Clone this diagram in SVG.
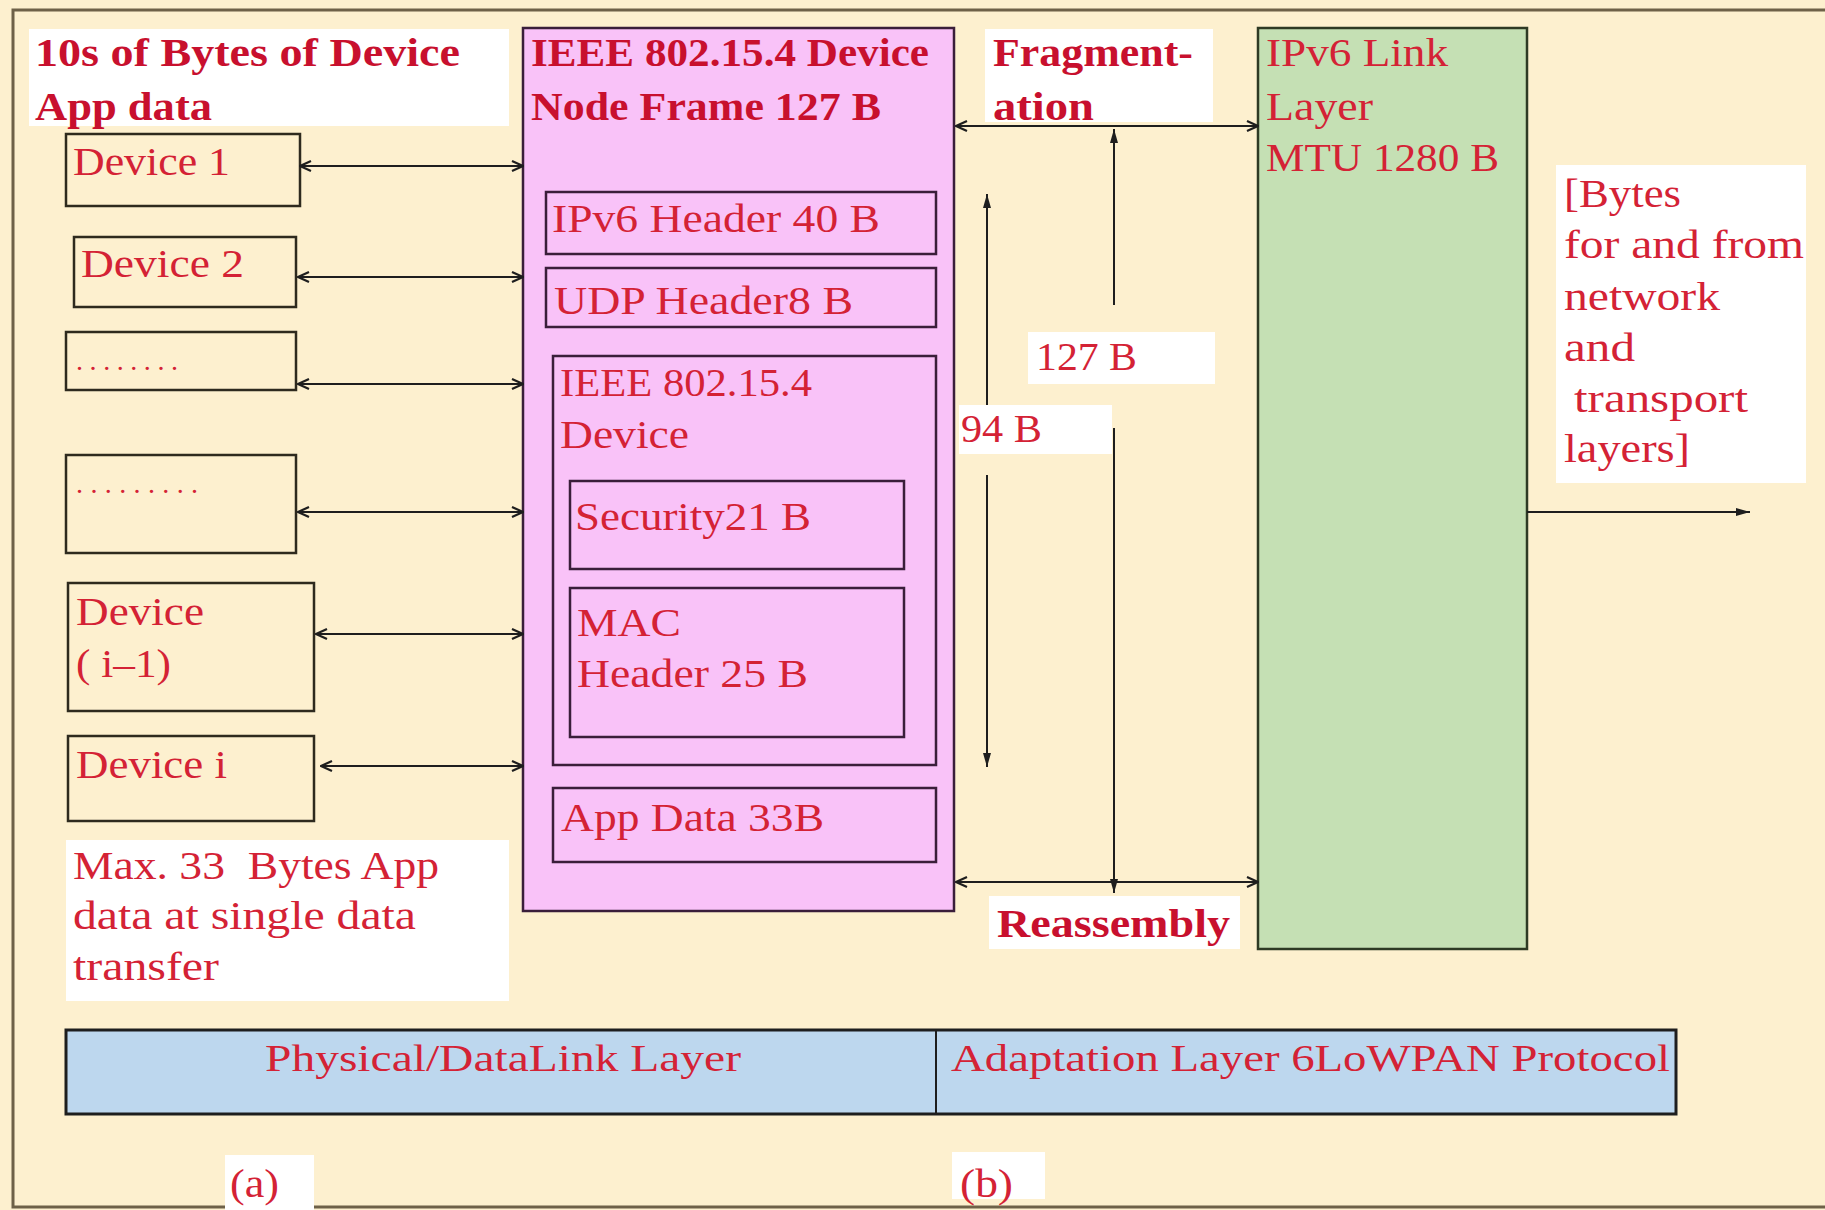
<svg xmlns="http://www.w3.org/2000/svg" width="1825" height="1210" viewBox="0 0 1825 1210" font-family="'Liberation Serif', 'Times New Roman', serif">
<defs>
<style>
text{font-family:'Liberation Serif','Times New Roman',serif;font-size:40px;fill:#d42235}
.b{font-weight:bold;fill:#c8102e}
.bar{font-size:38px}
.box{fill:none;stroke:#2e2a1e;stroke-width:2.5}
.pk{fill:#f9c2f8;stroke:#3a1e3a;stroke-width:2.5}
.wh{fill:#ffffff}
.c{stroke:#1e1e1e;stroke-width:2;fill:none}
</style>
<marker id="open" viewBox="0 0 14 14" refX="13" refY="7" markerWidth="14" markerHeight="14" orient="auto-start-reverse" markerUnits="userSpaceOnUse">
<path d="M2,2 L13,7 L2,12" fill="none" stroke="#1e1e1e" stroke-width="2.2"/>
</marker>
<marker id="tri" viewBox="0 0 14 8" refX="14" refY="4" markerWidth="14" markerHeight="8" orient="auto" markerUnits="userSpaceOnUse">
<path d="M0,0 L14,4 L0,8 Z" fill="#1e1e1e"/>
</marker>
</defs>
<rect x="0" y="0" width="1825" height="1210" fill="#fdf0cf"/>
<path d="M1825,10 H13 V1207 H1825" fill="none" stroke="#6e6148" stroke-width="3"/>

<g id="title-a">
<rect class="wh" x="29" y="29" width="480" height="97"/>
<text class="b" x="35" y="66" textLength="425" lengthAdjust="spacingAndGlyphs">10s of Bytes of Device</text>
<text class="b" x="35" y="120" textLength="177" lengthAdjust="spacingAndGlyphs">App data</text>
</g>

<g id="device1"><rect class="box" x="66" y="134" width="234" height="72"/>
<text x="73" y="175" textLength="157" lengthAdjust="spacingAndGlyphs">Device 1</text></g>
<g id="device2"><rect class="box" x="74" y="237" width="222" height="70"/>
<text x="81" y="277" textLength="163" lengthAdjust="spacingAndGlyphs">Device 2</text></g>
<g id="device-dots1"><rect class="box" x="66" y="332" width="230" height="58"/>
<text x="76" y="370" style="font-size:28px" textLength="102" lengthAdjust="spacing">........</text></g>
<g id="device-dots2"><rect class="box" x="66" y="455" width="230" height="98"/>
<text x="76" y="493" style="font-size:28px" textLength="122" lengthAdjust="spacing">.........</text></g>
<g id="device-im1"><rect class="box" x="68" y="583" width="246" height="128"/>
<text x="76" y="625" textLength="128" lengthAdjust="spacingAndGlyphs">Device</text>
<text x="76" y="677" textLength="95" lengthAdjust="spacingAndGlyphs">( i–1)</text></g>
<g id="device-i"><rect class="box" x="68" y="736" width="246" height="85"/>
<text x="76" y="778" textLength="151" lengthAdjust="spacingAndGlyphs">Device i</text></g>

<g id="max-note">
<rect class="wh" x="66" y="840" width="443" height="161"/>
<text x="73" y="879" textLength="366" lengthAdjust="spacingAndGlyphs">Max. 33&#160; Bytes App</text>
<text x="73" y="929" textLength="343" lengthAdjust="spacingAndGlyphs">data at single data</text>
<text x="73" y="980" textLength="146" lengthAdjust="spacingAndGlyphs">transfer</text>
</g>

<g id="frame-127">
<rect class="pk" x="523" y="28" width="431" height="883"/>
<text class="b" x="531" y="66" textLength="398" lengthAdjust="spacingAndGlyphs">IEEE 802.15.4 Device</text>
<text class="b" x="531" y="120" textLength="350" lengthAdjust="spacingAndGlyphs">Node Frame 127 B</text>
</g>
<g id="ipv6-header"><rect class="pk" x="546" y="192" width="390" height="62"/>
<text x="552" y="232" textLength="328" lengthAdjust="spacingAndGlyphs">IPv6 Header 40 B</text></g>
<g id="udp-header"><rect class="pk" x="546" y="268" width="390" height="59"/>
<text x="554" y="314" textLength="299" lengthAdjust="spacingAndGlyphs">UDP Header8 B</text></g>
<g id="ieee-device"><rect class="pk" x="553" y="356" width="383" height="409"/>
<text x="560" y="396" textLength="252" lengthAdjust="spacingAndGlyphs">IEEE 802.15.4</text>
<text x="560" y="448" textLength="129" lengthAdjust="spacingAndGlyphs">Device</text></g>
<g id="security"><rect class="pk" x="570" y="481" width="334" height="88"/>
<text x="575" y="530" textLength="236" lengthAdjust="spacingAndGlyphs">Security21 B</text></g>
<g id="mac-header"><rect class="pk" x="570" y="588" width="334" height="149"/>
<text x="577" y="636" textLength="104" lengthAdjust="spacingAndGlyphs">MAC</text>
<text x="577" y="687" textLength="231" lengthAdjust="spacingAndGlyphs">Header 25 B</text></g>
<g id="app-data"><rect class="pk" x="553" y="788" width="383" height="74"/>
<text x="561" y="831" textLength="263" lengthAdjust="spacingAndGlyphs">App Data 33B</text></g>

<g id="ipv6-link">
<rect x="1258" y="28" width="269" height="921" fill="#c5e0b4" stroke="#2e3a24" stroke-width="2.5"/>
<text x="1266" y="66" textLength="182" lengthAdjust="spacingAndGlyphs">IPv6 Link</text>
<text x="1266" y="120" textLength="107" lengthAdjust="spacingAndGlyphs">Layer</text>
<text x="1266" y="171" textLength="233" lengthAdjust="spacingAndGlyphs">MTU 1280 B</text>
</g>

<g id="connectors">
<line class="c" x1="300" y1="166" x2="523" y2="166" marker-start="url(#open)" marker-end="url(#open)"/>
<line class="c" x1="298" y1="277" x2="523" y2="277" marker-start="url(#open)" marker-end="url(#open)"/>
<line class="c" x1="298" y1="384" x2="523" y2="384" marker-start="url(#open)" marker-end="url(#open)"/>
<line class="c" x1="298" y1="512" x2="523" y2="512" marker-start="url(#open)" marker-end="url(#open)"/>
<line class="c" x1="316" y1="634" x2="523" y2="634" marker-start="url(#open)" marker-end="url(#open)"/>
<line class="c" x1="321" y1="766" x2="523" y2="766" marker-start="url(#open)" marker-end="url(#open)"/>
<line class="c" x1="956" y1="126" x2="1258" y2="126" marker-start="url(#open)" marker-end="url(#open)"/>
<line class="c" x1="956" y1="882" x2="1258" y2="882" marker-start="url(#open)" marker-end="url(#open)"/>
<line class="c" x1="1114" y1="305" x2="1114" y2="129" marker-end="url(#tri)"/>
<line class="c" x1="1114" y1="428" x2="1114" y2="893" marker-end="url(#tri)"/>
<line class="c" x1="987" y1="419" x2="987" y2="194" marker-end="url(#tri)"/>
<line class="c" x1="987" y1="475" x2="987" y2="767" marker-end="url(#tri)"/>
<line class="c" x1="1527" y1="512" x2="1750" y2="512" marker-end="url(#tri)"/>
</g>

<g id="fragmentation">
<rect class="wh" x="985" y="29" width="228" height="93"/>
<text class="b" x="993" y="66" textLength="200" lengthAdjust="spacingAndGlyphs">Fragment-</text>
<text class="b" x="993" y="120" textLength="101" lengthAdjust="spacingAndGlyphs">ation</text>
</g>
<g id="label-127">
<rect class="wh" x="1028" y="332" width="187" height="52"/>
<text x="1036" y="370" textLength="101" lengthAdjust="spacingAndGlyphs">127 B</text>
</g>
<g id="label-94">
<rect class="wh" x="959" y="405" width="153" height="49"/>
<text x="961" y="442" textLength="81" lengthAdjust="spacingAndGlyphs">94 B</text>
</g>
<g id="reassembly">
<rect class="wh" x="989" y="896" width="251" height="53"/>
<text class="b" x="997" y="937" textLength="233" lengthAdjust="spacingAndGlyphs">Reassembly</text>
</g>

<g id="bytes-note">
<rect class="wh" x="1556" y="165" width="250" height="318"/>
<text x="1564" y="207" textLength="117" lengthAdjust="spacingAndGlyphs">[Bytes</text>
<text x="1564" y="258" textLength="240" lengthAdjust="spacingAndGlyphs">for and from</text>
<text x="1564" y="310" textLength="156" lengthAdjust="spacingAndGlyphs">network</text>
<text x="1564" y="361" textLength="71" lengthAdjust="spacingAndGlyphs">and</text>
<text x="1574" y="412" textLength="174" lengthAdjust="spacingAndGlyphs">transport</text>
<text x="1564" y="462" textLength="126" lengthAdjust="spacingAndGlyphs">layers]</text>
</g>

<g id="layer-bar">
<rect x="66" y="1030" width="1610" height="84" fill="#bdd7ee" stroke="#1e1e1e" stroke-width="3"/>
<line x1="936" y1="1030" x2="936" y2="1114" stroke="#1e1e1e" stroke-width="2"/>
<text class="bar" x="265" y="1071" textLength="476" lengthAdjust="spacingAndGlyphs">Physical/DataLink Layer</text>
<text class="bar" x="951" y="1071" textLength="719" lengthAdjust="spacingAndGlyphs">Adaptation Layer 6LoWPAN Protocol</text>
</g>

<g id="label-a">
<rect class="wh" x="225" y="1155" width="89" height="55"/>
<text x="230" y="1197" textLength="49" lengthAdjust="spacingAndGlyphs">(a)</text>
</g>
<g id="label-b">
<rect class="wh" x="952" y="1152" width="93" height="47"/>
<text x="960" y="1197" textLength="53" lengthAdjust="spacingAndGlyphs">(b)</text>
</g>
</svg>
